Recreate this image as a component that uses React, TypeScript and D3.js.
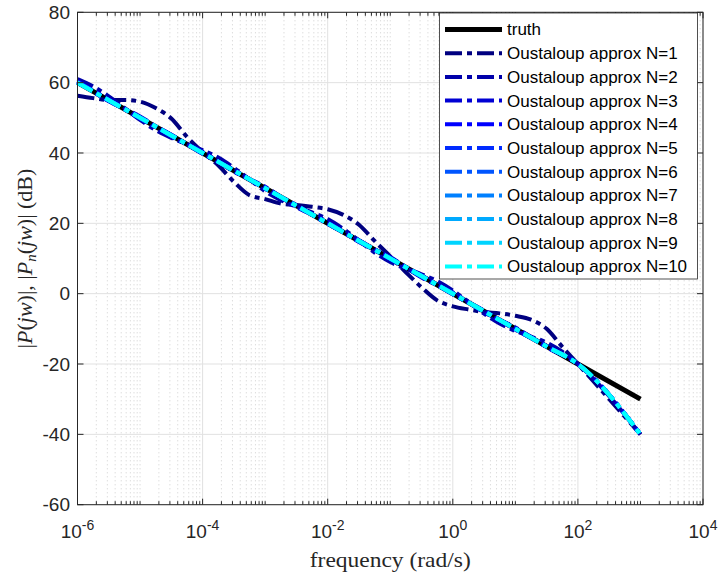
import React from 'react';
import * as d3 from 'd3';

const W = 720;
const H = 575;
const PLOT = { left: 77.5, right: 703, top: 12.3, bottom: 504.7 };

const xTickExps = [-6, -4, -2, 0, 2, 4];
const yTicks = [80, 60, 40, 20, 0, -20, -40, -60];

const truthFreqExp = [-6, 2, 3];
const truthDb = [60, -20, -30];

const fineFreqExp = [-6, -5.75, -5.5, -5.25, -5, -4.75, -4.5, -4.25, -4, -3.75, -3.5, -3.25, -3, -2.75, -2.5, -2.25, -2, -1.75, -1.5, -1.25, -1, -0.75, -0.5, -0.25, 0, 0.25, 0.5, 0.75, 1, 1.25, 1.5, 1.75, 2, 3];
const n1Db = [56.3, 55.6, 55.1, 55.1, 54.6, 52.8, 49.8, 44.6, 40.3, 36.5, 31.8, 28.0, 26.9, 25.6, 25.2, 24.7, 24.0, 22.4, 19.6, 15.0, 10.6, 6.1, 1.8, -1.9, -3.6, -4.5, -5.2, -5.6, -6.3, -7.4, -10.0, -15.1, -20.0, -40.0];
const n2Db = [61.0, 58.9, 56.1, 52.8, 49.4, 46.5, 44.3, 42.5, 40.8, 38.7, 35.8, 32.5, 29.1, 26.6, 24.7, 23.1, 21.2, 18.4, 15.1, 11.7, 9.0, 7.1, 5.5, 3.6, 0.9, -2.3, -5.7, -8.5, -10.6, -12.2, -13.9, -16.5, -20.0, -40.0];

const coarseFreqExp = [-6, -5.5, -5, -4.5, -4, -3.5, -3, -2.5, -2, -1.5, -1, -0.5, 0, 0.5, 1, 1.5, 2, 3];
const n3Db = [60.5, 54.7, 50.4, 44.6, 40.4, 34.7, 30.4, 24.6, 20.4, 14.7, 10.4, 4.6, 0.4, -5.3, -9.6, -15.2, -20.0, -40.0];
const n4Db = [60.3, 55.2, 49.8, 45.2, 39.8, 35.2, 29.8, 25.2, 19.8, 15.2, 9.8, 5.2, -0.2, -4.8, -10.2, -14.9, -20.0, -40.0];
const n5Db = [60.2, 54.9, 50.1, 44.9, 40.1, 34.9, 30.1, 24.9, 20.1, 14.9, 10.1, 4.9, 0.1, -5.1, -9.9, -15.1, -20.0, -40.0];
const n6Db = [60.1, 55.1, 49.9, 45.1, 39.9, 35.1, 29.9, 25.1, 19.9, 15.1, 9.9, 5.1, -0.1, -4.9, -10.1, -15.0, -20.0, -40.0];
const n7Db = [60.1, 54.9, 50.0, 44.9, 40.0, 34.9, 30.0, 24.9, 20.0, 14.9, 10.0, 4.9, 0.0, -5.1, -10.0, -15.0, -20.0, -40.0];
const n8Db = [60.0, 55.0, 50.1, 45.0, 40.1, 35.0, 30.1, 25.0, 20.1, 15.0, 10.1, 5.0, 0.1, -5.0, -9.9, -15.0, -20.0, -40.0];
const n9Db = [60.0, 55.0, 50.0, 45.0, 40.0, 35.0, 30.0, 25.0, 20.0, 15.0, 10.0, 5.0, 0.0, -5.0, -10.0, -15.0, -20.0, -40.0];
const n10Db = [60.0, 55.0, 50.0, 45.0, 40.0, 35.0, 30.0, 25.0, 20.0, 15.0, 10.0, 5.0, 0.0, -5.0, -10.0, -15.0, -20.0, -40.0];

const seriesNames = ['Oustaloup approx N=1', 'Oustaloup approx N=2', 'Oustaloup approx N=3', 'Oustaloup approx N=4', 'Oustaloup approx N=5', 'Oustaloup approx N=6', 'Oustaloup approx N=7', 'Oustaloup approx N=8', 'Oustaloup approx N=9', 'Oustaloup approx N=10'];
const seriesColors = ['#000080', '#0000AA', '#0000D4', '#0000FF', '#002BFF', '#0055FF', '#0080FF', '#00AAFF', '#00D4FF', '#00FFFF'];

const AX = '#262626';
const SANS = '"Liberation Sans", Arial, Helvetica, sans-serif';
const SERIF = '"Liberation Serif", "Times New Roman", serif';
const DASH = '17 5 5 5';

export default function App() {
  const x = d3.scaleLog().domain([1e-6, 1e4]).range([PLOT.left, PLOT.right]);
  const y = d3.scaleLinear().domain([-60, 80]).range([PLOT.bottom, PLOT.top]);

  const series = [
    { f: fineFreqExp, v: n1Db },
    { f: fineFreqExp, v: n2Db },
    { f: coarseFreqExp, v: n3Db },
    { f: coarseFreqExp, v: n4Db },
    { f: coarseFreqExp, v: n5Db },
    { f: coarseFreqExp, v: n6Db },
    { f: coarseFreqExp, v: n7Db },
    { f: coarseFreqExp, v: n8Db },
    { f: coarseFreqExp, v: n9Db },
    { f: coarseFreqExp, v: n10Db },
  ];

  const line = d3
    .line<[number, number]>()
    .x((d) => x(Math.pow(10, d[0])))
    .y((d) => y(d[1]))
    .curve(d3.curveMonotoneX);
  const straight = d3
    .line<[number, number]>()
    .x((d) => x(Math.pow(10, d[0])))
    .y((d) => y(d[1]));

  const minorX: number[] = [];
  for (let k = -6; k < 4; k++) {
    if (k % 2 !== 0) minorX.push(Math.pow(10, k));
    for (let m = 2; m <= 9; m++) minorX.push(m * Math.pow(10, k));
  }

  const legendTop = 13;
  const legendRowH = 23.7;
  const legendFirst = 29.5;

  return (
    <svg width={W} height={H} style={{ position: 'absolute', left: 0, top: 0, background: '#fff' }}>
      <rect x={0} y={0} width={W} height={H} fill="#fff" />
      {/* minor grid */}
      {minorX.map((v, i) => (
        <line key={'mg' + i} x1={x(v)} x2={x(v)} y1={PLOT.top} y2={PLOT.bottom} stroke="#c4c4c4" strokeWidth={0.8} strokeDasharray="1 3" />
      ))}
      {/* major grid */}
      {xTickExps.map((e) => (
        <line key={'gx' + e} x1={x(Math.pow(10, e))} x2={x(Math.pow(10, e))} y1={PLOT.top} y2={PLOT.bottom} stroke="#e1e1e1" strokeWidth={1} />
      ))}
      {yTicks.map((t) => (
        <line key={'gy' + t} x1={PLOT.left} x2={PLOT.right} y1={y(t)} y2={y(t)} stroke="#e1e1e1" strokeWidth={1} />
      ))}
      {/* truth */}
      <path
        d={straight(truthFreqExp.map((f, i) => [f, truthDb[i]] as [number, number])) || ''}
        fill="none"
        stroke="#000"
        strokeWidth={5}
      />
      {series.map((s, si) => (
        <path
          key={'s' + si}
          d={line(s.f.map((f, i) => [f, s.v[i]] as [number, number])) || ''}
          fill="none"
          stroke={seriesColors[si]}
          strokeWidth={4}
          strokeDasharray={DASH}
        />
      ))}
      {/* axes box */}
      <rect x={PLOT.left} y={PLOT.top} width={PLOT.right - PLOT.left} height={PLOT.bottom - PLOT.top} fill="none" stroke={AX} strokeWidth={1} />
      {/* x ticks */}
      {xTickExps.map((e) => {
        const xx = x(Math.pow(10, e));
        return (
          <g key={'xt' + e}>
            <line x1={xx} x2={xx} y1={PLOT.bottom} y2={PLOT.bottom - 6} stroke={AX} />
            <line x1={xx} x2={xx} y1={PLOT.top} y2={PLOT.top + 6} stroke={AX} />
            <text x={xx} y={538} textAnchor="middle" fontFamily={SANS} fontSize={19} fill={AX}>
              10
              <tspan dy={-8} fontSize={14}>{String(e)}</tspan>
            </text>
          </g>
        );
      })}
      {minorX.map((v, i) => (
        <g key={'mt' + i}>
          <line x1={x(v)} x2={x(v)} y1={PLOT.bottom} y2={PLOT.bottom - 3.5} stroke={AX} />
          <line x1={x(v)} x2={x(v)} y1={PLOT.top} y2={PLOT.top + 3.5} stroke={AX} />
        </g>
      ))}
      {/* y ticks */}
      {yTicks.map((t) => (
        <g key={'yt' + t}>
          <line x1={PLOT.left} x2={PLOT.left + 6} y1={y(t)} y2={y(t)} stroke={AX} />
          <line x1={PLOT.right} x2={PLOT.right - 6} y1={y(t)} y2={y(t)} stroke={AX} />
          <text x={70} y={y(t)} dy="0.35em" textAnchor="end" fontFamily={SANS} fontSize={19} fill={AX}>
            {String(t)}
          </text>
        </g>
      ))}
      {/* x label */}
      <text x={(PLOT.left + PLOT.right) / 2} y={567} textAnchor="middle" fontFamily={SERIF} fontSize={22} fill={AX} textLength={161} lengthAdjust="spacingAndGlyphs">
        frequency (rad/s)
      </text>
      {/* y label */}
      <text transform={`translate(32, ${(PLOT.top + PLOT.bottom) / 2}) rotate(-90)`} textAnchor="middle" fontFamily={SERIF} fontSize={22} fill={AX}>
        <tspan>|</tspan>
        <tspan fontStyle="italic">P</tspan>
        <tspan>(</tspan>
        <tspan fontStyle="italic">jw</tspan>
        <tspan>)|, |</tspan>
        <tspan fontStyle="italic">P</tspan>
        <tspan fontStyle="italic" fontSize={15} dy={4}>n</tspan>
        <tspan dy={-4}>(</tspan>
        <tspan fontStyle="italic">jw</tspan>
        <tspan>)|  (dB)</tspan>
      </text>
      {/* legend */}
      <rect x={439.5} y={legendTop} width={258} height={266} fill="#fff" stroke={AX} strokeWidth={0.8} />
      <g>
        <line x1={445} x2={502} y1={legendFirst} y2={legendFirst} stroke="#000" strokeWidth={5} />
        <text x={507} y={legendFirst} dy="0.35em" fontFamily={SANS} fontSize={17} fill="#000">truth</text>
      </g>
      {seriesNames.map((name, i) => {
        const yy = legendFirst + legendRowH * (i + 1);
        return (
          <g key={'lg' + i}>
            <line x1={445} x2={502} y1={yy} y2={yy} stroke={seriesColors[i]} strokeWidth={4} strokeDasharray={DASH} />
            <text x={507} y={yy} dy="0.35em" fontFamily={SANS} fontSize={17} fill="#000">{name}</text>
          </g>
        );
      })}
    </svg>
  );
}
